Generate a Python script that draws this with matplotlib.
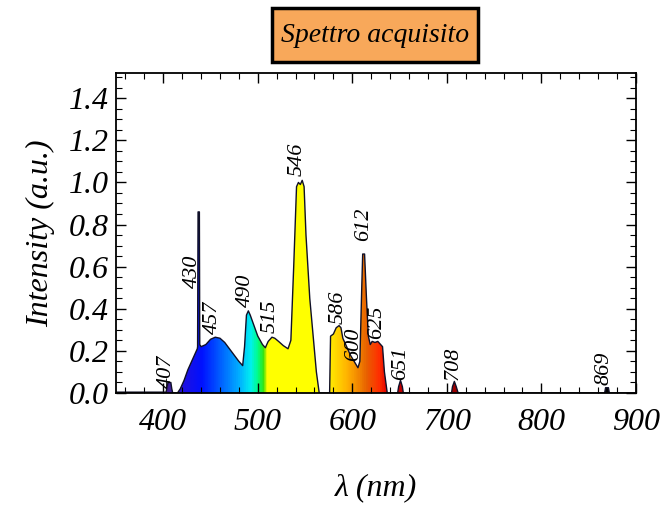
import numpy as np
import matplotlib
matplotlib.use("Agg")
import matplotlib.pyplot as plt
from matplotlib.colors import LinearSegmentedColormap
from matplotlib.patches import Rectangle
from matplotlib.ticker import MultipleLocator

# spectrum outline (wavelength in nm, intensity a.u.)
wavelength = [350, 400, 403, 404, 405, 408, 409, 410, 415, 418, 422, 426, 430, 434,
              436, 436.3, 436.8, 438.2, 438.6, 440, 445, 450, 455, 460, 465, 470, 475,
              480, 484, 486, 488, 490, 492, 496, 500, 505, 508, 511, 515, 518, 522,
              527, 532, 535, 538, 541, 543, 545, 547, 549, 551, 555, 559, 562, 565,
              576, 577, 580, 583, 586, 588, 590, 594, 598, 602, 606, 608, 610, 611,
              613, 615, 617, 619, 621, 624, 627, 630, 632, 634, 637, 648, 649, 651,
              653, 654, 705, 706, 708, 710, 712, 867, 868, 871, 872, 900]
intensity = [0.004, 0.004, 0.004, 0.03, 0.05, 0.05, 0.02, 0.0, 0.0, 0.02, 0.06, 0.11,
             0.15, 0.19, 0.21, 0.22, 0.86, 0.86, 0.23, 0.22, 0.23, 0.255, 0.265, 0.26,
             0.24, 0.21, 0.18, 0.15, 0.13, 0.22, 0.37, 0.39, 0.37, 0.32, 0.27, 0.23,
             0.215, 0.245, 0.265, 0.26, 0.245, 0.225, 0.21, 0.25, 0.6, 0.98, 1.0, 0.99,
             1.01, 0.98, 0.75, 0.45, 0.25, 0.1, 0.0, 0.0, 0.27, 0.28, 0.31, 0.32, 0.31,
             0.26, 0.22, 0.18, 0.15, 0.12, 0.15, 0.5, 0.66, 0.66, 0.45, 0.27, 0.23,
             0.245, 0.24, 0.245, 0.23, 0.22, 0.1, 0.0, 0.0, 0.03, 0.06, 0.03, 0.0, 0.0,
             0.03, 0.055, 0.03, 0.0, 0.0, 0.025, 0.025, 0.0, 0.0]

# labelled peaks
peak_labels = ["407", "430", "457", "490", "515", "546", "586", "600", "612", "625",
               "651", "708", "869"]
peak_nm = [403, 431, 452, 487, 513, 542, 585, 601, 612, 626, 651, 707, 866]

# colour of the light along the wavelength axis
spec_nm = [350, 380, 407, 420, 440, 460, 480, 492, 500, 506, 509, 565, 580, 595,
           608, 615, 628, 637, 651, 708, 760, 850, 900]
spec_col = ["#000000", "#200040", "#4020a0", "#2010e0", "#0010ff", "#0060ff",
            "#00b0ff", "#00f0f0", "#00ff80", "#40e000", "#ffff00", "#ffff00",
            "#ffe000", "#ffb000", "#f08000", "#e86000", "#ff3000", "#e00000",
            "#c00000", "#a00000", "#600000", "#000000", "#000000"]

plt.rcParams['font.family'] = 'Liberation Serif'
plt.rcParams['font.style'] = 'italic'

fig = plt.figure(figsize=(6.63, 5.08), dpi=100)
ax = fig.add_axes([0.175, 0.2264, 0.784, 0.63])

x0, x1 = 350, 900
y0, y1 = 0, 1.52
pos = [(v - x0) / (x1 - x0) for v in spec_nm]
cmap = LinearSegmentedColormap.from_list("spec", list(zip(pos, spec_col)))

poly = ax.fill_between(wavelength, intensity, 0, color='none', lw=0)
grad = np.linspace(x0, x1, 1100).reshape(1, -1)
img = ax.imshow(grad, extent=[x0, x1, y0, y1], aspect='auto', cmap=cmap,
                vmin=x0, vmax=x1, origin='lower', zorder=1)
img.set_clip_path(poly.get_paths()[0], transform=ax.transData)
ax.plot(wavelength, intensity, color='#101028', lw=1.0, zorder=2)

label_y = [0.024, 0.50, 0.28, 0.41, 0.285, 1.03, 0.33, 0.15, 0.72, 0.255,
           0.062, 0.062, 0.038]
for lab, xn, yl in zip(peak_labels, peak_nm, label_y):
    ax.text(xn, yl, lab, rotation=90, ha='center', va='bottom', fontsize=16,
            zorder=3)

ax.set_xlim(x0, x1)
ax.set_ylim(y0, y1)
ax.xaxis.set_major_locator(MultipleLocator(100))
ax.xaxis.set_minor_locator(MultipleLocator(20))
ax.yaxis.set_major_locator(MultipleLocator(0.2))
ax.yaxis.set_minor_locator(MultipleLocator(0.05))
ax.yaxis.set_major_formatter(lambda v, p: f"{v:.1f}")
ax.tick_params(which='both', direction='in', top=True, right=True, labelsize=23)
ax.tick_params(which='major', length=7, width=1)
ax.tick_params(which='minor', length=4, width=0.8)
ax.tick_params(axis='x', pad=11)
ax.tick_params(axis='y', pad=5)
for s in ax.spines.values():
    s.set_linewidth(1.3)

ax.set_xlabel("λ (nm)", fontsize=23, labelpad=26)
ax.set_ylabel("Intensity (a.u.)", fontsize=23, labelpad=10)

fig.patches.append(Rectangle((272 / 663, 1 - 62 / 508), 206 / 663, 54 / 508,
                             transform=fig.transFigure, facecolor='#f8a85a',
                             edgecolor='black', lw=2.5))
fig.text(375 / 663, 1 - 35 / 508, "Spettro acquisito", ha='center', va='center',
         fontsize=20)

fig.savefig("out.png", dpi=100)
